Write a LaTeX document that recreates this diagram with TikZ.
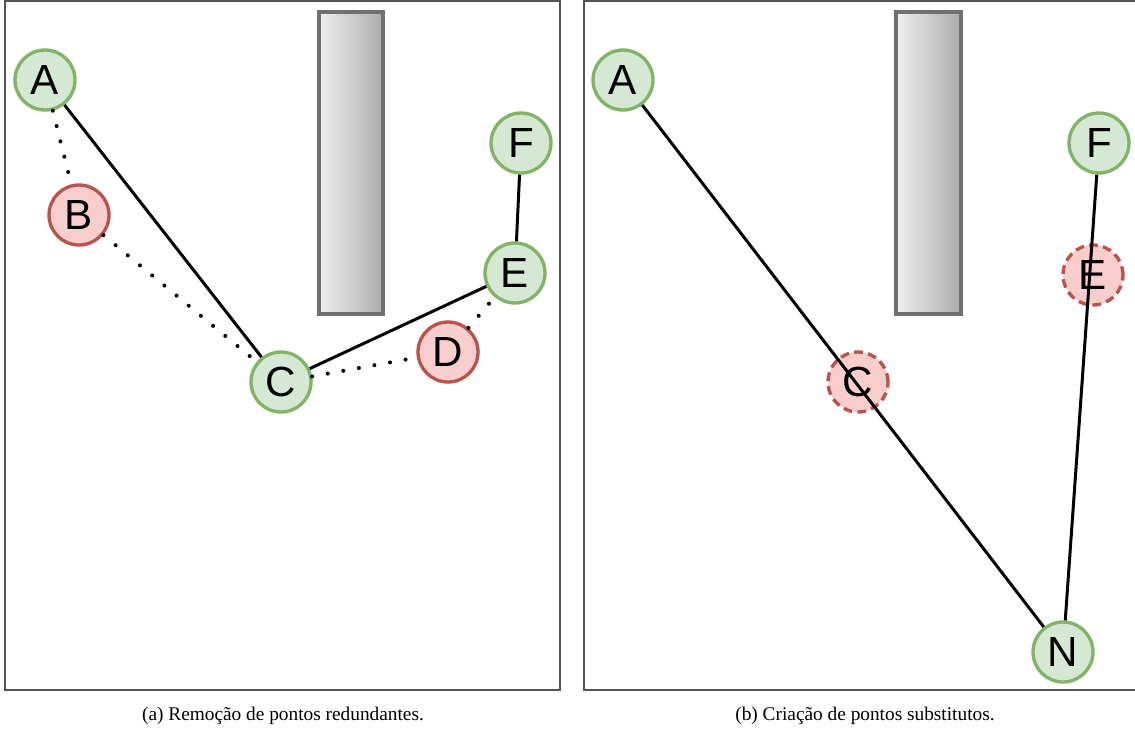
\documentclass[tikz,border=0pt]{standalone}
\usepackage{fontspec}
\setmainfont{Liberation Serif}
\newfontfamily\labelfont{Liberation Sans}
\usetikzlibrary{positioning}

\definecolor{okfill}{HTML}{D5E8D4}
\definecolor{okdraw}{HTML}{82B366}
\definecolor{badfill}{HTML}{F8CECC}
\definecolor{baddraw}{HTML}{B85450}
\definecolor{wallline}{HTML}{707070}
\definecolor{wallleft}{HTML}{F0F0F0}
\definecolor{wallright}{HTML}{ACACAC}
\definecolor{frameline}{HTML}{555555}

\begin{document}
\begin{tikzpicture}[x=0.02cm, y=-0.02cm,
    ok/.style={%
      circle, draw=okdraw, fill=okfill, line width=1.9pt,
      minimum size=1.2cm, inner sep=0pt,
      font=\labelfont\fontsize{24}{24}\selectfont
    },
    bad/.style={ok, draw=baddraw, fill=badfill},
    gone/.style={bad, dash pattern=on 5pt off 3pt},
    wall/.style={draw=wallline, line width=1.8pt,
      left color=wallleft, right color=wallright},
    frame/.style={draw=frameline, line width=1.1pt},
    link/.style={line width=1.7pt},
    skip/.style={line width=2.3pt, dash pattern=on 0pt off 9pt, line cap=round},
    caption/.style={font=\fontsize{11}{13}\selectfont}
]
    \useasboundingbox (0,0) rectangle (1135,731);

    % left panel: redundant points
    \draw[frame] (5,1) rectangle (560,690);
    \draw[wall] (319,12) rectangle (383,314);

    \node[ok]  (A)  at (45,80)   {A};
    \node[bad] (B)  at (79,215)  {B};
    \node[ok]  (C)  at (281,382) {C};
    \node[bad] (D)  at (448,352) {D};
    \node[ok]  (E)  at (515,273) {E};
    \node[ok]  (F)  at (521,143) {F};

    \path[skip] (A) edge (B)
                (B) edge (C)
                (C) edge (D)
                (D) edge (E)
    ;
    \path[link] (A) edge (C)
                (C) edge (E)
                (E) edge (F)
    ;

    % right panel: substitute points
    \draw[frame] (1135,1) -| (584,690) -- (1135,690);
    \draw[wall] (896,12) rectangle (961,314);

    \node[ok]   (A2) at (623,80)   {A};
    \node[gone] (C2) at (858,382)  {C};
    \node[gone] (E2) at (1093,275) {E};
    \node[ok]   (F2) at (1099,143) {F};
    \node[ok]   (N)  at (1063,652) {N};

    \path[link] (A2) edge (N)
                (N)  edge (F2)
    ;

    \node[caption] (capa) at (283,716) {(a) Remoção de pontos redundantes.};
    \node[caption] (capb) at (865,716) {(b) Criação de pontos substitutos.};
\end{tikzpicture}
\end{document}
